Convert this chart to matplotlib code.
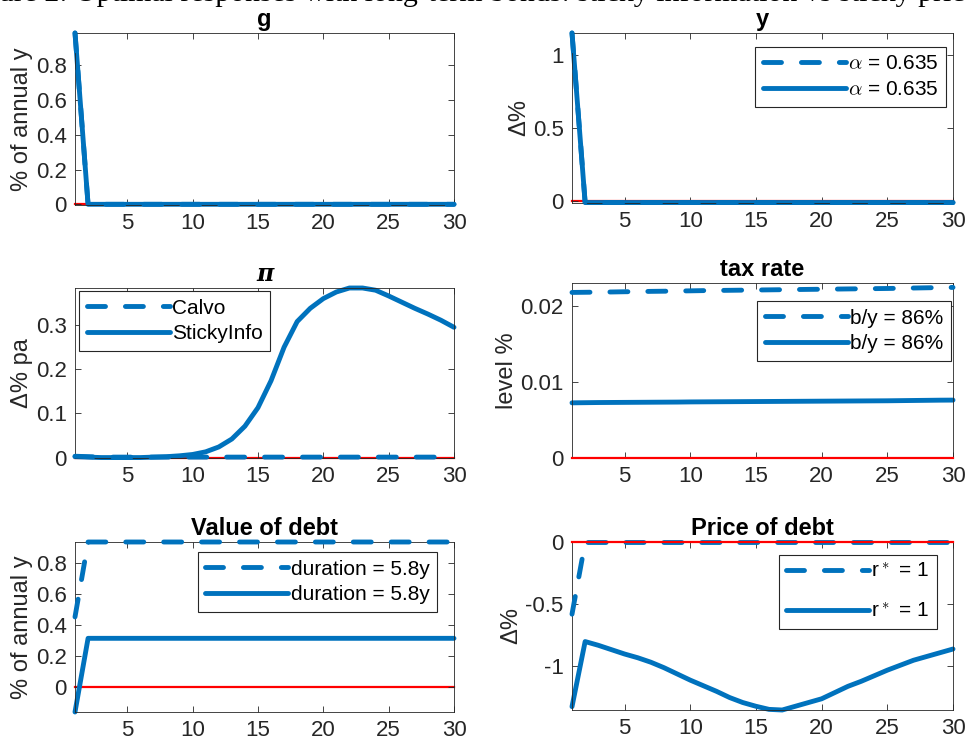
import numpy as np
import matplotlib
matplotlib.use('Agg')
import matplotlib.pyplot as plt
from matplotlib.ticker import FormatStrFormatter

plt.rcParams['font.family'] = ['Liberation Sans', 'DejaVu Sans']
plt.rcParams['mathtext.fontset'] = 'cm'
plt.rcParams['axes.unicode_minus'] = False

# horizon (quarters)
periods = np.arange(1, 31)

# dashed = Calvo, solid = sticky information
g_calvo = [0.985, 0, 0, 0, 0, 0, 0, 0, 0, 0, 0, 0, 0, 0, 0,
           0, 0, 0, 0, 0, 0, 0, 0, 0, 0, 0, 0, 0, 0, 0]
g_sticky = [0.985, 0, 0, 0, 0, 0, 0, 0, 0, 0, 0, 0, 0, 0, 0,
            0, 0, 0, 0, 0, 0, 0, 0, 0, 0, 0, 0, 0, 0, 0]

y_calvo = [1.15, -0.012, -0.012, -0.012, -0.012, -0.012, -0.012, -0.012, -0.012, -0.012,
           -0.012, -0.012, -0.012, -0.012, -0.012, -0.012, -0.012, -0.012, -0.012, -0.012,
           -0.012, -0.012, -0.012, -0.012, -0.012, -0.012, -0.012, -0.012, -0.012, -0.012]
y_sticky = [1.15, -0.012, -0.012, -0.012, -0.012, -0.012, -0.012, -0.012, -0.012, -0.012,
            -0.012, -0.012, -0.012, -0.012, -0.012, -0.012, -0.012, -0.012, -0.012, -0.012,
            -0.012, -0.012, -0.012, -0.012, -0.012, -0.012, -0.012, -0.012, -0.012, -0.012]

pi_calvo = [0.003, 0.002, 0.001, 0.001, 0.001, 0.001, 0.001, 0.001, 0.001, 0.001,
            0.001, 0.001, 0.001, 0.001, 0.001, 0.001, 0.001, 0.001, 0.001, 0.001,
            0.001, 0.001, 0.001, 0.001, 0.001, 0.001, 0.001, 0.001, 0.001, 0.001]
pi_sticky = [0.002, 0.001, 0.0, 0.0, 0.0, 0.0, 0.001, 0.002, 0.004, 0.007,
             0.013, 0.024, 0.042, 0.071, 0.113, 0.174, 0.25, 0.308, 0.338, 0.36,
             0.375, 0.384, 0.384, 0.379, 0.366, 0.352, 0.338, 0.325, 0.311, 0.295]

tax_calvo = [0.02176, 0.02178, 0.0218, 0.02182, 0.02185, 0.02187, 0.0219, 0.02192, 0.02195, 0.02197,
             0.022, 0.02202, 0.02204, 0.02206, 0.02208, 0.0221, 0.02212, 0.02214, 0.02216, 0.02218,
             0.0222, 0.02222, 0.02224, 0.02226, 0.02228, 0.02231, 0.02234, 0.02237, 0.0224, 0.02242]
tax_sticky = [0.00725, 0.00727, 0.00729, 0.0073, 0.00731, 0.00732, 0.00733, 0.00734, 0.00735, 0.00737,
              0.00738, 0.00739, 0.0074, 0.00741, 0.00742, 0.00743, 0.00744, 0.00745, 0.00746, 0.00747,
              0.00748, 0.00749, 0.0075, 0.00751, 0.00752, 0.00754, 0.00756, 0.00758, 0.0076, 0.00761]

value_calvo = [0.45, 0.933, 0.933, 0.933, 0.933, 0.933, 0.933, 0.933, 0.933, 0.933,
               0.933, 0.933, 0.933, 0.933, 0.933, 0.933, 0.933, 0.933, 0.933, 0.933,
               0.933, 0.933, 0.933, 0.933, 0.933, 0.933, 0.933, 0.933, 0.933, 0.933]
value_sticky = [-0.163, 0.312, 0.312, 0.312, 0.312, 0.312, 0.312, 0.312, 0.312, 0.312,
                0.312, 0.312, 0.312, 0.312, 0.312, 0.312, 0.312, 0.312, 0.312, 0.312,
                0.312, 0.312, 0.312, 0.312, 0.312, 0.312, 0.312, 0.312, 0.312, 0.312]

price_calvo = [-0.58, -0.004, -0.004, -0.004, -0.004, -0.004, -0.004, -0.004, -0.004, -0.004,
               -0.004, -0.004, -0.004, -0.004, -0.004, -0.004, -0.004, -0.004, -0.004, -0.004,
               -0.004, -0.004, -0.004, -0.004, -0.004, -0.004, -0.004, -0.004, -0.004, -0.004]
price_sticky = [-1.323, -0.8, -0.83, -0.865, -0.9, -0.93, -0.966, -1.01, -1.06, -1.11,
                -1.155, -1.2, -1.25, -1.29, -1.32, -1.345, -1.35, -1.32, -1.29, -1.26,
                -1.21, -1.16, -1.12, -1.075, -1.03, -0.99, -0.95, -0.92, -0.89, -0.86]

titles = ['g', 'y', 'π', 'tax rate', 'Value of debt', 'Price of debt']
ylabels = ['% of annual y', 'Δ%', 'Δ% pa', 'level %', '% of annual y', 'Δ%']
legends = [None,
           [r'$\alpha$ = 0.635', r'$\alpha$ = 0.635'],
           ['Calvo', 'StickyInfo'],
           ['b/y = 86%', 'b/y = 86%'],
           ['duration = 5.8y', 'duration = 5.8y'],
           [r'r$^*$ = 1', r'r$^*$ = 1']]
series = [(g_calvo, g_sticky), (y_calvo, y_sticky), (pi_calvo, pi_sticky),
          (tax_calvo, tax_sticky), (value_calvo, value_sticky), (price_calvo, price_sticky)]
ylims = [(-0.004, 0.985), (-0.015, 1.15), (-0.001, 0.384),
         (0, 0.0230), (-0.163, 0.933), (-1.35, 0)]
yticks = [[0, 0.2, 0.4, 0.6, 0.8], [0, 0.5, 1], [0, 0.1, 0.2, 0.3],
          [0, 0.01, 0.02], [0, 0.2, 0.4, 0.6, 0.8], [-1, -0.5, 0]]

W, H = 966, 744
# axes boxes in pixels: left, right, top, bottom
boxes = [(75, 454, 33, 205), (572, 953, 33, 203),
         (75, 454, 288, 458), (572, 953, 283, 458),
         (75, 454, 542, 712), (572, 953, 542, 710)]
leg_loc = [None, ('upper right', (0.982, 0.918)), ('upper left', (0.011, 0.982)),
           ('upper right', (0.995, 0.897)), ('upper right', (0.955, 0.941)),
           ('upper right', (0.958, 0.923))]
leg_spacing = [0, 0.33, 0.33, 0.33, 0.33, 1.0]
zero_on_top = [False, False, False, True, False, True]

blue = '#0072BD'
dark = '#262626'

fig = plt.figure(figsize=(W / 100, H / 100), dpi=100)

# caption of the figure, cut at the top edge
fig.text(-0.042, 1 - 1 / H,
         'Figure 2: Optimal responses with long-term bonds: sticky information vs sticky prices',
         family=['Liberation Serif', 'DejaVu Serif'], fontsize=21.5, va='baseline', ha='left')

for i in range(6):
    l, r, t, b = boxes[i]
    ax = fig.add_axes([l / W, 1 - b / H, (r - l) / W, (b - t) / H])
    dashed, solid = series[i]
    ax.axhline(0, color='#FF0000', lw=1.6, zorder=4 if zero_on_top[i] else 1, clip_on=False)
    h1, = ax.plot(periods, dashed, color=blue, lw=3.5, linestyle=(0, (3.7, 4.1)),
                  dash_capstyle='round', zorder=3, clip_on=False)
    h2, = ax.plot(periods, solid, color=blue, lw=3.5, solid_capstyle='round', zorder=2,
                  clip_on=False)
    ax.set_xlim(1, 30)
    ax.set_ylim(*ylims[i])
    ax.set_xticks([5, 10, 15, 20, 25, 30])
    ax.set_yticks(yticks[i])
    ax.yaxis.set_major_formatter(FormatStrFormatter('%g'))
    ax.tick_params(direction='in', length=4, width=0.6, top=True, right=True,
                   labelsize=16, colors=dark, pad=6)
    for sp in ax.spines.values():
        sp.set_linewidth(0.6)
        sp.set_color(dark)
    if titles[i] == 'π':
        ax.set_title('π', fontsize=17, fontweight='bold', fontstyle='italic',
                     family=['DejaVu Serif'], pad=5)
    else:
        ax.set_title(titles[i], fontsize=17, fontweight='bold', pad=5)
    ax.set_ylabel(ylabels[i], fontsize=17, color=dark, labelpad=2)
    if legends[i] is not None:
        loc, anchor = leg_loc[i]
        leg = ax.legend([h1, h2], legends[i], loc=loc, bbox_to_anchor=anchor,
                        borderaxespad=0, fontsize=15, handlelength=4.0, handletextpad=0.1,
                        borderpad=0.36, labelspacing=leg_spacing[i], fancybox=False,
                        framealpha=1)
        leg.get_frame().set_edgecolor(dark)
        leg.get_frame().set_linewidth(0.8)

fig.savefig('out.png', dpi=100)
